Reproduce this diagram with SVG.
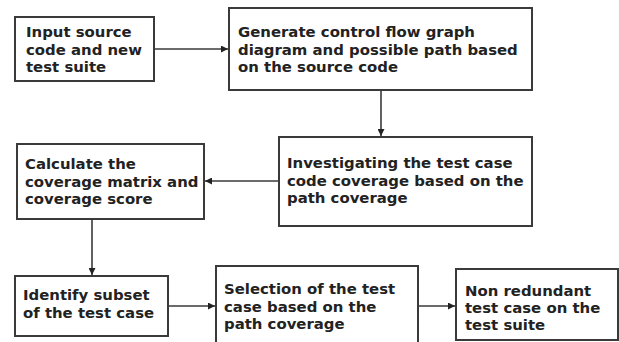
<svg xmlns="http://www.w3.org/2000/svg" width="619" height="342" viewBox="0 0 619 342">
<defs>
<style>
.box{fill:#fff;stroke:#3a3a3a;stroke-width:2}
.t{font-family:"DejaVu Sans",Verdana,sans-serif;font-weight:bold;font-size:14.9px;fill:#222}
.c{stroke:#3a3a3a;stroke-width:1.6;fill:none;marker-end:url(#ah)}
</style>
<marker id="ah" viewBox="0 0 10 10" refX="10" refY="5" markerWidth="7" markerHeight="7" markerUnits="userSpaceOnUse" orient="auto">
<path d="M0,0 L10,5 L0,10 z" fill="#222"/>
</marker>
</defs>
<rect width="619" height="342" fill="#fff"/>
<g id="connectors">
<line class="c" x1="154" y1="49" x2="228" y2="49"/>
<line class="c" x1="381" y1="90" x2="381" y2="136"/>
<line class="c" x1="279" y1="181" x2="205" y2="181"/>
<line class="c" x1="92" y1="219" x2="92" y2="275"/>
<line class="c" x1="168" y1="306" x2="215" y2="306"/>
<line class="c" x1="418" y1="306" x2="455" y2="306"/>
</g>
<g id="n1">
<rect class="box" x="15" y="17" width="139" height="64"/>
<text class="t" x="26" y="37">Input source</text>
<text class="t" x="26" y="54.5">code and new</text>
<text class="t" x="26" y="72">test suite</text>
</g>
<g id="n2">
<rect class="box" x="229" y="8" width="303" height="82"/>
<text class="t" x="238" y="37">Generate control flow graph</text>
<text class="t" x="238" y="54.5">diagram and possible path based</text>
<text class="t" x="238" y="72">on the source code</text>
</g>
<g id="n3">
<rect class="box" x="279" y="137" width="253" height="89"/>
<text class="t" x="287" y="168">Investigating the test case</text>
<text class="t" x="287" y="185.5">code coverage based on the</text>
<text class="t" x="287" y="203">path coverage</text>
</g>
<g id="n4">
<rect class="box" x="17" y="144" width="187" height="75"/>
<text class="t" x="25" y="169">Calculate the</text>
<text class="t" x="25" y="186.5">coverage matrix and</text>
<text class="t" x="25" y="204">coverage score</text>
</g>
<g id="n5">
<rect class="box" x="15" y="276" width="153" height="60"/>
<text class="t" x="23" y="300">Identify subset</text>
<text class="t" x="23" y="318">of the test case</text>
</g>
<g id="n6">
<rect class="box" x="216" y="266" width="202" height="90"/>
<text class="t" x="224" y="294">Selection of the test</text>
<text class="t" x="224" y="311.5">case based on the</text>
<text class="t" x="224" y="329">path coverage</text>
</g>
<g id="n7">
<rect class="box" x="456" y="269" width="162" height="71"/>
<text class="t" x="465" y="296">Non redundant</text>
<text class="t" x="465" y="313">test case on the</text>
<text class="t" x="465" y="330">test suite</text>
</g>
</svg>
